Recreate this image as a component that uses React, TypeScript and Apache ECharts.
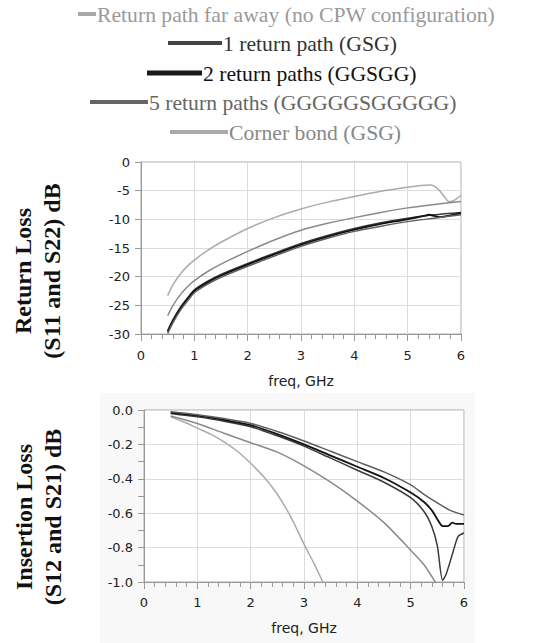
import React, { useEffect, useRef } from "react";
import * as echarts from "echarts";

// ---------- Legend ----------
const seriesNames = [
  "Return path far away (no CPW configuration)",
  "1 return path (GSG)",
  "2 return paths (GGSGG)",
  "5 return paths (GGGGGSGGGGG)",
  "Corner bond (GSG)",
];
const lineColors = ["#8a8a8a", "#3a3a3a", "#111111", "#5e5e5e", "#ababab"];
const legendLineColors = ["#a8a8a8", "#444444", "#1a1a1a", "#666666", "#aaaaaa"];
const legendTextColors = ["#9a9a9a", "#333333", "#111111", "#666666", "#888888"];

// ---------- Return loss (S11/S22) ----------
const rlFarFreq = [0.5, 0.6, 0.75, 0.9, 1, 1.25, 1.5, 2, 2.5, 3, 3.5, 4, 4.5, 5, 5.5, 6];
const rlFarVal = [-26.8, -25.0, -23.0, -21.5, -20.7, -19.1, -17.8, -15.6, -13.6, -11.9, -10.7, -9.7, -8.8, -8.0, -7.4, -6.9];

const rl1Freq = [0.5, 0.6, 0.75, 0.9, 1, 1.25, 1.5, 2, 2.5, 3, 3.5, 4, 4.5, 5, 5.5, 6];
const rl1Val = [-29.4, -27.5, -25.2, -23.4, -22.3, -20.8, -19.6, -17.7, -15.9, -14.2, -12.8, -11.6, -10.6, -9.8, -9.2, -8.8];

const rl2Freq = [0.5, 0.6, 0.75, 0.9, 1, 1.25, 1.5, 2, 2.5, 3, 3.5, 4, 4.5, 5, 5.3, 5.4, 5.5, 5.6, 5.7, 5.8, 6];
const rl2Val = [-29.6, -27.7, -25.4, -23.6, -22.5, -21.0, -19.8, -17.9, -16.1, -14.4, -13.0, -11.8, -10.8, -10.0, -9.4, -9.2, -9.4, -9.6, -9.5, -9.3, -8.9];

const rl5Freq = [0.5, 0.6, 0.75, 0.9, 1, 1.25, 1.5, 2, 2.5, 3, 3.5, 4, 4.5, 5, 5.5, 6];
const rl5Val = [-29.9, -28.0, -25.7, -23.9, -22.8, -21.3, -20.1, -18.2, -16.4, -14.7, -13.3, -12.1, -11.2, -10.4, -9.8, -9.2];

const rlCornerFreq = [0.5, 0.6, 0.75, 0.9, 1, 1.25, 1.5, 2, 2.5, 3, 3.5, 4, 4.5, 5, 5.25, 5.4, 5.5, 5.6, 5.7, 5.77, 5.85, 5.92, 6];
const rlCornerVal = [-23.3, -21.4, -19.4, -17.9, -17.1, -15.4, -14.0, -11.6, -9.7, -8.2, -7.0, -6.0, -5.1, -4.4, -4.1, -4.0, -4.2, -5.0, -6.2, -6.9, -6.8, -6.4, -5.8];

// ---------- Insertion loss (S12/S21) ----------
const ilFarFreq = [0.5, 1, 1.5, 2, 2.5, 3, 3.5, 4, 4.5, 5, 5.25, 5.5];
const ilFarVal = [-0.035, -0.078, -0.135, -0.19, -0.245, -0.325, -0.42, -0.53, -0.655, -0.815, -0.9, -1.02];

const il1Freq = [0.5, 1, 1.5, 2, 2.5, 3, 3.5, 4, 4.5, 5, 5.25, 5.4, 5.5, 5.6, 5.67, 5.79, 5.89, 6];
const il1Val = [-0.02, -0.04, -0.065, -0.097, -0.15, -0.21, -0.28, -0.35, -0.42, -0.51, -0.59, -0.68, -0.79, -0.99, -0.95, -0.83, -0.735, -0.715];

const il2Freq = [0.5, 1, 1.5, 2, 2.5, 3, 3.5, 4, 4.5, 5, 5.25, 5.4, 5.5, 5.6, 5.7, 5.78, 5.85, 6];
const il2Val = [-0.015, -0.033, -0.058, -0.088, -0.14, -0.2, -0.265, -0.33, -0.395, -0.48, -0.535, -0.585, -0.635, -0.675, -0.675, -0.655, -0.662, -0.662];

const il5Freq = [0.5, 1, 1.5, 2, 2.5, 3, 3.5, 4, 4.5, 5, 5.25, 5.5, 5.75, 6];
const il5Val = [-0.01, -0.027, -0.05, -0.078, -0.125, -0.18, -0.24, -0.3, -0.36, -0.435, -0.49, -0.54, -0.585, -0.61];

const ilCornerFreq = [0.5, 0.75, 1, 1.25, 1.5, 1.75, 2, 2.25, 2.5, 2.75, 3, 3.2, 3.4];
const ilCornerVal = [-0.04, -0.07, -0.105, -0.14, -0.185, -0.24, -0.31, -0.39, -0.49, -0.62, -0.78, -0.9, -1.03];

// ---------- Axis ticks ----------
const rlTicks = { min: -30, max: 0, interval: 5 };
const ilTicks = { min: -1, max: 0, interval: 0.2 };
const freqTicks = { min: 0, max: 6, interval: 1 };

const zip = (xs: number[], ys: number[]) => xs.map((x, i) => [x, ys[i]]);

const rlData = [
  zip(rlFarFreq, rlFarVal),
  zip(rl1Freq, rl1Val),
  zip(rl2Freq, rl2Val),
  zip(rl5Freq, rl5Val),
  zip(rlCornerFreq, rlCornerVal),
];
const ilData = [
  zip(ilFarFreq, ilFarVal),
  zip(il1Freq, il1Val),
  zip(il2Freq, il2Val),
  zip(il5Freq, il5Val),
  zip(ilCornerFreq, ilCornerVal),
];

const tickFont = "DejaVu Sans";
const serif = "Liberation Serif";

function xAxisCfg(gridIndex: number, labelMargin: number, nameGap: number) {
  return {
    type: "value",
    gridIndex,
    min: freqTicks.min,
    max: freqTicks.max,
    interval: freqTicks.interval,
    name: "freq, GHz",
    nameLocation: "middle",
    nameGap,
    nameTextStyle: { color: "#222", fontSize: 14, fontFamily: tickFont },
    axisLine: { show: true, onZero: false, lineStyle: { color: "#999", width: 1 } },
    axisTick: { show: true, length: 7, lineStyle: { color: "#999" } },
    minorTick: { show: true, splitNumber: 5, length: 5, lineStyle: { color: "#999" } },
    splitLine: { show: true, lineStyle: { color: "#dcdcdc" } },
    axisLabel: { color: "#222", fontSize: 13, fontFamily: tickFont, margin: labelMargin },
  };
}

export default function App() {
  const ref = useRef<HTMLDivElement>(null);

  useEffect(() => {
    if (!ref.current) return;
    const chart = echarts.init(ref.current, null, { renderer: "svg" });

    const legendRows = [
      { lineX: 78, lineW: 18, cy: 14, h: 4 },
      { lineX: 168, lineW: 54, cy: 43, h: 4 },
      { lineX: 147, lineW: 55, cy: 73, h: 5 },
      { lineX: 90, lineW: 58, cy: 102, h: 4 },
      { lineX: 170, lineW: 58, cy: 132, h: 4 },
    ];

    const graphics: any[] = [
      {
        type: "rect",
        z: -10,
        shape: { x: 100, y: 393, width: 375, height: 250 },
        style: { fill: "#f8f8f8" },
        silent: true,
      },
    ];
    legendRows.forEach((r, i) => {
      graphics.push({
        type: "rect",
        shape: { x: r.lineX, y: r.cy - r.h / 2, width: r.lineW, height: r.h },
        style: { fill: legendLineColors[i] },
      });
      graphics.push({
        type: "text",
        x: r.lineX + r.lineW + 1,
        y: r.cy + 1,
        scaleX: 0.985,
        style: {
          text: seriesNames[i],
          fill: legendTextColors[i],
          fontSize: 22,
          fontFamily: serif,
          textAlign: "left",
          textVerticalAlign: "middle",
          align: "left",
          verticalAlign: "middle",
        },
      });
    });
    const yTitles = [
      { text: "Return Loss\n(S11 and S22) dB", x: 37, y: 271 },
      { text: "Insertion Loss\n(S12 and S21) dB", x: 38, y: 517 },
    ];
    yTitles.forEach((t) => {
      graphics.push({
        type: "text",
        x: t.x,
        y: t.y,
        rotation: Math.PI / 2,
        style: {
          text: t.text,
          fill: "#111",
          fontSize: 24,
          fontWeight: "bold",
          fontFamily: serif,
          lineHeight: 29,
          textAlign: "center",
          textVerticalAlign: "middle",
          align: "center",
          verticalAlign: "middle",
        },
      });
    });

    const series: any[] = [];
    [rlData, ilData].forEach((group, gi) => {
      group.forEach((data, i) => {
        series.push({
          type: "line",
          name: seriesNames[i],
          xAxisIndex: gi,
          yAxisIndex: gi,
          data,
          showSymbol: false,
          symbol: "none",
          smooth: 0.25,
          clip: true,
          lineStyle: { color: lineColors[i], width: i === 2 ? 1.8 : 1.5 },
          z: 5 - (i === 4 ? 1 : 0),
        });
      });
    });

    const option: any = {
      animation: false,
      backgroundColor: "#fff",
      grid: [
        { left: 141, top: 162, width: 320, height: 172, show: true, borderColor: "#aaa", borderWidth: 1, backgroundColor: "transparent" },
        { left: 144, top: 410, width: 320, height: 172, show: true, borderColor: "#aaa", borderWidth: 1, backgroundColor: "#fff" },
      ],
      xAxis: [xAxisCfg(0, 15, 40), xAxisCfg(1, 14, 39)],
      yAxis: [
        {
          type: "value",
          gridIndex: 0,
          min: rlTicks.min,
          max: rlTicks.max,
          interval: rlTicks.interval,
          axisLine: { show: true, onZero: false, lineStyle: { color: "#999" } },
          axisTick: { show: true, length: 6, lineStyle: { color: "#999" } },
          splitLine: { show: true, lineStyle: { color: "#dcdcdc" } },
          axisLabel: { color: "#222", fontSize: 13, fontFamily: tickFont, margin: 11 },
        },
        {
          type: "value",
          gridIndex: 1,
          min: ilTicks.min,
          max: ilTicks.max,
          interval: ilTicks.interval,
          axisLine: { show: true, onZero: false, lineStyle: { color: "#999" } },
          axisTick: { show: true, length: 6, lineStyle: { color: "#999" } },
          minorTick: { show: true, splitNumber: 2, length: 6, lineStyle: { color: "#999" } },
          splitLine: { show: true, lineStyle: { color: "#dcdcdc" } },
          axisLabel: {
            color: "#222",
            fontSize: 13,
            fontFamily: tickFont,
            margin: 11,
            formatter: (v: number) => v.toFixed(1),
          },
        },
      ],
      graphic: graphics,
      series,
    };

    chart.setOption(option);
    return () => chart.dispose();
  }, []);

  return (
    <div
      ref={ref}
      style={{ position: "absolute", left: 0, top: 0, width: 558, height: 643, background: "#fff" }}
    />
  );
}
